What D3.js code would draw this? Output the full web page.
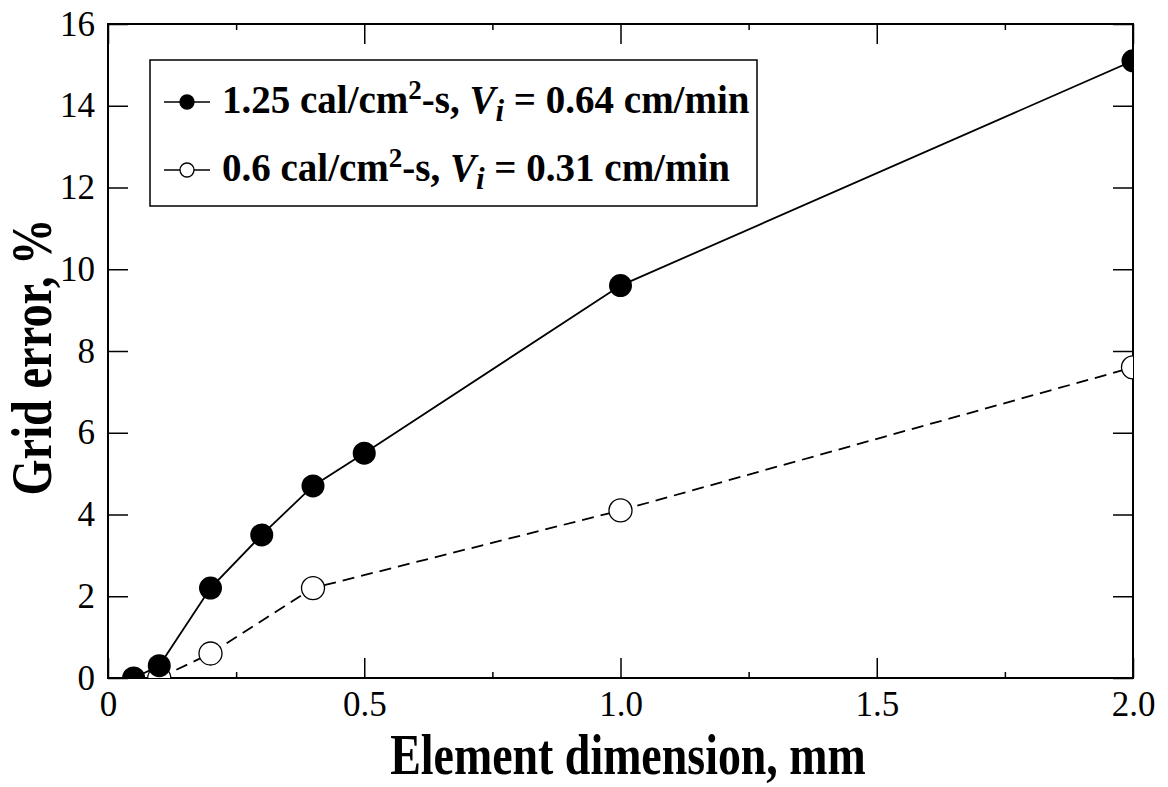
<!DOCTYPE html>
<html lang="en">
<head>
<meta charset="utf-8">
<title>Grid error vs element dimension</title>
<style>
  body { margin: 0; background: #fff; }
  text { font-family: "Liberation Serif", "Times New Roman", serif; fill: #000; }
  .axis path, .axis line { stroke: #000; }
</style>
</head>
<body>
<script src="https://cdn.jsdelivr.net/npm/d3@7"></script>
<script>
// data
var highX = [0.05, 0.1, 0.2, 0.3, 0.4, 0.5, 1.0, 2.0];
var highY = [0, 0.3, 2.2, 3.5, 4.7, 5.5, 9.6, 15.1];
var lowX = [0.1, 0.2, 0.4, 1.0, 2.0];
var lowY = [0, 0.6, 2.2, 4.1, 7.6];
var xMajor = [0, 0.5, 1.0, 1.5, 2.0];
var xMinor = [0.25, 0.75, 1.25, 1.75];
var xLabels = ["0", "0.5", "1.0", "1.5", "2.0"];
var yTicks = [0, 2, 4, 6, 8, 10, 12, 14, 16];

var W = 1168, H = 787;
var margin = {top: 24, right: 35, bottom: 109, left: 108},
    width = W - margin.left - margin.right,
    height = H - margin.top - margin.bottom;

var x = d3.scaleLinear().domain([0, 2]).range([0, width]);
var y = d3.scaleLinear().domain([0, 16]).range([height, 0]);

var svg = d3.select("body").append("svg")
    .attr("width", W)
    .attr("height", H);

var g = svg.append("g")
    .attr("transform", "translate(" + margin.left + "," + margin.top + ")");

g.append("clipPath").attr("id", "plotclip")
  .append("rect").attr("width", width).attr("height", height);

// ticks (all point inward)
function noDomain(sel) { sel.select(".domain").remove(); }

g.append("g").attr("class", "axis")
    .attr("transform", "translate(0," + height + ")")
    .call(d3.axisBottom(x).tickValues(xMajor).tickSize(-20).tickPadding(13)
      .tickFormat(function(d, i) { return xLabels[i]; }))
    .call(noDomain);

g.append("g").attr("class", "axis")
    .attr("transform", "translate(0," + height + ")")
    .call(d3.axisBottom(x).tickValues(xMinor).tickSize(-6).tickFormat(""))
    .call(noDomain);

g.append("g").attr("class", "axis")
    .call(d3.axisTop(x).tickValues(xMajor).tickSize(-20).tickFormat(""))
    .call(noDomain);

g.append("g").attr("class", "axis")
    .call(d3.axisTop(x).tickValues(xMinor).tickSize(-6).tickFormat(""))
    .call(noDomain);

g.append("g").attr("class", "axis")
    .call(d3.axisLeft(y).tickValues(yTicks).tickSize(-20).tickPadding(13))
    .call(noDomain);

g.append("g").attr("class", "axis")
    .attr("transform", "translate(" + width + ",0)")
    .call(d3.axisRight(y).tickValues(yTicks).tickSize(-20).tickFormat(""))
    .call(noDomain);

g.selectAll(".axis line").attr("stroke-width", 1.5);
g.selectAll(".axis").attr("font-size", 35).attr("font-family", null);

// frame
g.append("rect")
    .attr("width", width).attr("height", height)
    .attr("fill", "none").attr("stroke", "#000").attr("stroke-width", 2);

// series
var high = highX.map(function(d, i) { return [d, highY[i]]; });
var low = lowX.map(function(d, i) { return [d, lowY[i]]; });

var line = d3.line().x(function(d) { return x(d[0]); }).y(function(d) { return y(d[1]); });

var plot = g.append("g").attr("clip-path", "url(#plotclip)");

plot.append("path").datum(low)
    .attr("d", line).attr("fill", "none")
    .attr("stroke", "#000").attr("stroke-width", 1.8)
    .attr("stroke-dasharray", "12,7");

plot.append("path").datum(high)
    .attr("d", line).attr("fill", "none")
    .attr("stroke", "#000").attr("stroke-width", 1.8);

plot.selectAll(".low").data(low).enter().append("circle")
    .attr("class", "low")
    .attr("cx", function(d) { return x(d[0]); })
    .attr("cy", function(d) { return y(d[1]); })
    .attr("r", 11.5)
    .attr("fill", "#fff").attr("stroke", "#000").attr("stroke-width", 1.3);

plot.selectAll(".high").data(high).enter().append("circle")
    .attr("class", "high")
    .attr("cx", function(d) { return x(d[0]); })
    .attr("cy", function(d) { return y(d[1]); })
    .attr("r", 11.5)
    .attr("fill", "#000");

// legend
var leg = svg.append("g");
leg.append("rect")
    .attr("x", 150).attr("y", 60).attr("width", 607).attr("height", 146)
    .attr("fill", "#fff").attr("stroke", "#000").attr("stroke-width", 1.5);

var rows = [
  {y: 102, fill: "#000", a: "1.25 cal/cm", b: " = 0.64 cm/min"},
  {y: 170, fill: "#fff", a: "0.6 cal/cm", b: " = 0.31 cm/min"}
];

rows.forEach(function(r) {
  leg.append("line")
      .attr("x1", 164).attr("x2", 210).attr("y1", r.y).attr("y2", r.y)
      .attr("stroke", "#000").attr("stroke-width", 1.5);
  leg.append("circle")
      .attr("cx", 187).attr("cy", r.y).attr("r", 7)
      .attr("fill", r.fill).attr("stroke", "#000").attr("stroke-width", 1.3);
  var t = leg.append("text")
      .attr("x", 222).attr("y", r.y + 11)
      .attr("font-size", 39).attr("font-weight", "bold");
  t.append("tspan").text(r.a);
  t.append("tspan").attr("font-size", 27).attr("dy", -14).text("2");
  t.append("tspan").attr("dy", 14).text("-s, ");
  t.append("tspan").attr("font-style", "italic").text("V");
  t.append("tspan").attr("font-style", "italic").attr("font-size", 31).attr("dy", 8).text("i");
  t.append("tspan").attr("dy", -8).text(r.b);
});

// axis titles
svg.append("text")
    .attr("transform", "translate(628,774) scale(0.82,1)")
    .attr("text-anchor", "middle")
    .attr("font-size", 56).attr("font-weight", "bold")
    .text("Element dimension, mm");

svg.append("text")
    .attr("transform", "translate(51,357) rotate(-90) scale(0.8,1)")
    .attr("text-anchor", "middle")
    .attr("font-size", 58).attr("font-weight", "bold")
    .text("Grid error, %");
</script>
</body>
</html>
